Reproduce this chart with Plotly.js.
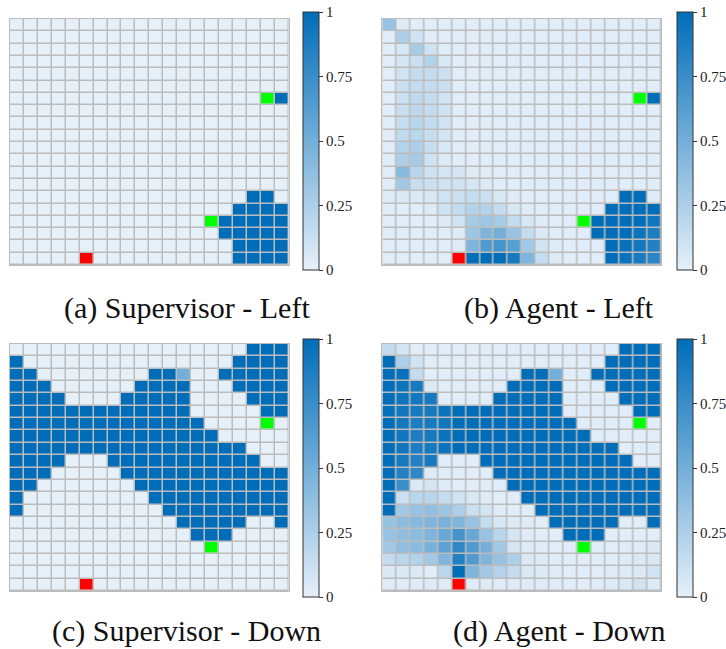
<!DOCTYPE html>
<html>
<head>
<meta charset="utf-8">
<script src="https://cdn.plot.ly/plotly-3.0.1.min.js"></script>
</head>
<body style="margin:0;background:#fff">
<div id="chart" style="width:726px;height:649px"></div>
<script>
// grid coordinates (columns 1..20, rows 1..20 from top)
const colIdx = [1,2,3,4,5,6,7,8,9,10,11,12,13,14,15,16,17,18,19,20];
const rowIdx = [1,2,3,4,5,6,7,8,9,10,11,12,13,14,15,16,17,18,19,20];

// (a) Supervisor - Left
const supLeft = [
 [0,0,0,0,0, 0,0,0,0,0, 0,0,0,0,0, 0,0,0,0,0],
 [0,0,0,0,0, 0,0,0,0,0, 0,0,0,0,0, 0,0,0,0,0],
 [0,0,0,0,0, 0,0,0,0,0, 0,0,0,0,0, 0,0,0,0,0],
 [0,0,0,0,0, 0,0,0,0,0, 0,0,0,0,0, 0,0,0,0,0],
 [0,0,0,0,0, 0,0,0,0,0, 0,0,0,0,0, 0,0,0,0,0],
 [0,0,0,0,0, 0,0,0,0,0, 0,0,0,0,0, 0,0,0,0,0],
 [0,0,0,0,0, 0,0,0,0,0, 0,0,0,0,0, 0,0,0,0,1],
 [0,0,0,0,0, 0,0,0,0,0, 0,0,0,0,0, 0,0,0,0,0],
 [0,0,0,0,0, 0,0,0,0,0, 0,0,0,0,0, 0,0,0,0,0],
 [0,0,0,0,0, 0,0,0,0,0, 0,0,0,0,0, 0,0,0,0,0],
 [0,0,0,0,0, 0,0,0,0,0, 0,0,0,0,0, 0,0,0,0,0],
 [0,0,0,0,0, 0,0,0,0,0, 0,0,0,0,0, 0,0,0,0,0],
 [0,0,0,0,0, 0,0,0,0,0, 0,0,0,0,0, 0,0,0,0,0],
 [0,0,0,0,0, 0,0,0,0,0, 0,0,0,0,0, 0,0,0,0,0],
 [0,0,0,0,0, 0,0,0,0,0, 0,0,0,0,0, 0,0,1,1,0],
 [0,0,0,0,0, 0,0,0,0,0, 0,0,0,0,0, 0,1,1,1,1],
 [0,0,0,0,0, 0,0,0,0,0, 0,0,0,0,0, 1,1,1,1,1],
 [0,0,0,0,0, 0,0,0,0,0, 0,0,0,0,0, 1,1,1,1,1],
 [0,0,0,0,0, 0,0,0,0,0, 0,0,0,0,0, 0,1,1,1,1],
 [0,0,0,0,0, 0,0,0,0,0, 0,0,0,0,0, 0,1,1,1,1]
];

// (b) Agent - Left
const agentLeft = [
 [.35,.04,.02,.02,.02, .02,.02,.02,.02,.02, .02,.02,.02,.02,.02, .02,.02,.02,.02,.02],
 [.02,.25,.10,.02,.02, .02,.02,.02,.02,.02, .02,.02,.02,.02,.02, .02,.02,.02,.02,.02],
 [.02,.07,.28,.10,.02, .02,.02,.02,.02,.02, .02,.02,.02,.02,.02, .02,.02,.02,.02,.02],
 [.02,.08,.12,.22,.06, .02,.02,.02,.02,.02, .02,.02,.02,.02,.02, .02,.02,.02,.02,.02],
 [.02,.10,.15,.15,.12, .02,.02,.02,.02,.02, .02,.02,.02,.02,.02, .02,.02,.02,.02,.02],
 [.02,.12,.15,.15,.12, .02,.02,.02,.02,.02, .02,.02,.02,.02,.02, .02,.02,.02,.02,.02],
 [.02,.12,.17,.15,.10, .02,.02,.02,.02,.02, .02,.02,.02,.02,.02, .02,.02,.02,0,1],
 [.02,.13,.18,.15,.10, .02,.02,.02,.02,.02, .02,.02,.02,.02,.02, .02,.02,.02,.02,.02],
 [.02,.14,.20,.15,.10, .02,.02,.02,.02,.02, .02,.02,.02,.02,.02, .02,.02,.02,.02,.02],
 [.02,.17,.20,.14,.08, .02,.02,.02,.02,.02, .02,.02,.02,.02,.02, .02,.02,.02,.02,.02],
 [.02,.22,.25,.14,.06, .02,.02,.02,.02,.02, .02,.02,.02,.02,.02, .02,.02,.02,.02,.02],
 [.02,.25,.28,.10,.04, .02,.02,.02,.02,.02, .02,.02,.02,.02,.02, .02,.02,.02,.02,.02],
 [.02,.42,.20,.10,.08, .08,.04,.02,.02,.02, .02,.02,.02,.02,.02, .02,.02,.02,.02,.02],
 [.02,.30,.14,.12,.10, .10,.08,.04,.02,.02, .02,.02,.02,.02,.02, .02,.02,.02,.02,.02],
 [.03,.05,.05,.06,.10, .12,.15,.12,.06,.03, .02,.02,.02,.02,.02, .02,.02,1,1,.03],
 [.02,.02,.02,.04,.10, .15,.22,.22,.15,.07, .03,.02,.02,.02,.02, .02,1,1,1,1],
 [.02,.02,.02,.02,.04, .10,.28,.32,.28,.15, .07,.03,.02,.02,0, 1,1,1,1,.93],
 [.02,.02,.02,.02,.02, .04,.32,.45,.50,.35, .15,.05,.02,.02,.02, 1,1,1,.95,.88],
 [.02,.02,.02,.02,.02, .03,.45,.65,.70,.62, .30,.10,.03,.02,.02, .02,1,.97,.92,.85],
 [.02,.02,.02,.02,.02, 0,1,1,1,.90, .45,.15,.04,.02,.02, .02,1,.95,.90,.82]
];

// (c) Supervisor - Down
const supDown = [
 [0,0,0,0,0, 0,0,0,0,0, 0,0,0,0,0, 0,0,1,1,1],
 [1,0,0,0,0, 0,0,0,0,0, 0,0,0,0,0, 0,1,1,1,1],
 [1,1,0,0,0, 0,0,0,0,0, 1,1,.5,0,0, 1,1,1,1,1],
 [1,1,1,0,0, 0,0,0,0,1, 1,1,1,0,0, 0,1,1,1,1],
 [1,1,1,1,0, 0,0,0,1,1, 1,1,1,0,0, 0,0,1,1,1],
 [1,1,1,1,1, 1,1,1,1,1, 1,1,1,0,0, 0,0,0,1,1],
 [1,1,1,1,1, 1,1,1,1,1, 1,1,1,1,0, 0,0,0,0,0],
 [1,1,1,1,1, 1,1,1,1,1, 1,1,1,1,1, 0,0,0,0,0],
 [1,1,1,1,1, 1,1,1,1,1, 1,1,1,1,1, 1,1,0,0,0],
 [1,1,1,1,0, 0,0,1,1,1, 1,1,1,1,1, 1,1,1,0,0],
 [1,1,1,0,0, 0,0,0,1,1, 1,1,1,1,1, 1,1,1,1,1],
 [1,1,0,0,0, 0,0,0,0,1, 1,1,1,1,1, 1,1,1,1,1],
 [1,0,0,0,0, 0,0,0,0,0, 1,1,1,1,1, 1,1,1,1,1],
 [1,0,0,0,0, 0,0,0,0,0, 0,1,1,1,1, 1,1,1,1,1],
 [0,0,0,0,0, 0,0,0,0,0, 0,0,1,1,1, 1,1,0,0,1],
 [0,0,0,0,0, 0,0,0,0,0, 0,0,0,1,1, 1,0,0,0,0],
 [0,0,0,0,0, 0,0,0,0,0, 0,0,0,0,0, 0,0,0,0,0],
 [0,0,0,0,0, 0,0,0,0,0, 0,0,0,0,0, 0,0,0,0,0],
 [0,0,0,0,0, 0,0,0,0,0, 0,0,0,0,0, 0,0,0,0,0],
 [0,0,0,0,0, 0,0,0,0,0, 0,0,0,0,0, 0,0,0,0,0]
];

// (d) Agent - Down
const agentDown = [
 [.15,.08,.02,.02,.02, .02,.02,.02,.02,.02, .02,.02,.02,.02,.02, .02,.02,1,1,1],
 [1,.25,.10,.02,.02, .02,.02,.02,.02,.02, .02,.02,.02,.02,.02, .02,1,1,1,1],
 [1,.97,.15,.02,.02, .02,.02,.02,.02,.02, 1,1,.5,.02,.02, 1,1,1,1,1],
 [1,.95,.90,.05,.02, .02,.02,.02,.02,1, 1,1,1,.02,.02, .02,1,1,1,1],
 [1,.95,.92,.90,.02, .02,.02,.02,1,1, 1,1,1,.02,.02, .02,.02,1,1,1],
 [.98,.93,.90,.90,.95, 1,1,1,1,1, 1,1,1,.02,.02, .02,.02,.02,1,1],
 [1,.92,.88,.90,.93, 1,1,1,1,1, 1,1,1,1,.02, .02,.02,.02,0,.02],
 [1,.92,.87,.90,.95, 1,1,1,1,1, 1,1,1,1,1, .02,.02,.02,.02,.02],
 [1,.93,.87,.90,.95, 1,1,1,1,1, 1,1,1,1,1, 1,1,.02,.02,.02],
 [1,.90,.85,.90,.02, .02,.02,1,1,1, 1,1,1,1,1, 1,1,1,.02,.02],
 [1,.85,.80,.04,.02, .02,.02,.02,1,1, 1,1,1,1,1, 1,1,1,1,1],
 [1,.75,.05,.08,.03, .02,.02,.02,.02,1, 1,1,1,1,1, 1,1,1,1,1],
 [1,.12,.20,.20,.15, .10,.06,.03,.02,.02, 1,1,1,1,1, 1,1,1,1,1],
 [1,.30,.35,.38,.33, .25,.12,.08,.03,.02, .02,1,1,1,1, 1,1,1,1,1],
 [.35,.40,.42,.45,.48, .45,.35,.15,.07,.04, .03,.02,1,1,1, 1,1,.02,.02,1],
 [.35,.38,.40,.45,.55, .70,.55,.35,.20,.08, .03,.02,.02,1,1, 1,.02,.02,.02,.02],
 [.30,.38,.40,.48,.60, .80,.65,.50,.30,.08, .04,.03,.02,.02,0, .02,.02,.03,.03,.05],
 [.15,.20,.22,.30,.45, .85,.65,.45,.35,.25, .05,.04,.03,.02,.02, .02,.02,.04,.05,.06],
 [.05,.05,.05,.02,.20, 1,.45,.30,.22,.15, .06,.04,.03,.02,.02, .02,.03,.04,.05,.10],
 [.03,.03,.03,.03,.03, 0,.03,.03,.03,.03, .03,.03,.03,.02,.02, .03,.04,.06,.10,.04]
];

// special cells (start = red, goals = green), same for every panel
const markRows  = [20, 7, 17];
const markCols  = [6, 19, 15];
const markKinds = [0, 1, 1];   // 0 = red, 1 = green

const panelLabels = ['(a) Supervisor - Left', '(b) Agent - Left', '(c) Supervisor - Down', '(d) Agent - Down'];
const cbTickVals = [0, 0.25, 0.5, 0.75, 1];
const cbTickText = ['0', '0.25', '0.5', '0.75', '1'];

const SERIF = 'Liberation Serif';
const W = 726, H = 649;
const panels = [
  {z: supLeft,   x0: 10,  x1: 289, y0: 19,  y1: 265, cbx: 303, cby: 12,  lx: 187, ly: 308, bottom: false},
  {z: agentLeft, x0: 383, x1: 662, y0: 19,  y1: 265, cbx: 677, cby: 12,  lx: 560, ly: 308, bottom: false},
  {z: supDown,   x0: 10,  x1: 289, y0: 344, y1: 591, cbx: 303, cby: 339, lx: 187, ly: 649, bottom: true},
  {z: agentDown, x0: 383, x1: 662, y0: 344, y1: 591, cbx: 677, cby: 339, lx: 560, ly: 649, bottom: true}
];

const markZ = rowIdx.map(r => colIdx.map(c => null));
markRows.forEach((r, i) => { markZ[r - 1][markCols[i] - 1] = markKinds[i]; });

const blues = [[0, '#e6f0f9'], [1, '#006db9']];
const traces = [];
const layout = {
  width: W, height: H,
  margin: {l: 0, r: 0, t: 0, b: 0},
  paper_bgcolor: '#ffffff',
  plot_bgcolor: '#bcbcbc',
  showlegend: false,
  annotations: []
};
panels.forEach((p, i) => {
  const sfx = i === 0 ? '' : String(i + 1);
  traces.push({
    type: 'heatmap', z: p.z, x: colIdx, y: rowIdx,
    xaxis: 'x' + sfx, yaxis: 'y' + sfx,
    colorscale: blues, zmin: 0, zmax: 1,
    xgap: 1.5, ygap: 1.5, hoverinfo: 'z',
    colorbar: {
      x: p.cbx / W, xanchor: 'left', xpad: 0,
      y: 1 - p.cby / H, yanchor: 'top', ypad: 0,
      len: 258, lenmode: 'pixels', thickness: 16, thicknessmode: 'pixels',
      outlinewidth: 1, outlinecolor: '#333',
      ticks: 'outside', ticklen: 4, tickwidth: 1, tickcolor: '#333',
      tickvals: cbTickVals, ticktext: cbTickText,
      tickfont: {family: SERIF, size: 15, color: '#222'}
    }
  });
  traces.push({
    type: 'heatmap', z: markZ, x: colIdx, y: rowIdx,
    xaxis: 'x' + sfx, yaxis: 'y' + sfx,
    colorscale: [[0, '#ff0000'], [0.5, '#ff0000'], [0.5, '#00ff00'], [1, '#00ff00']],
    zmin: 0, zmax: 1, showscale: false, xgap: 1.5, ygap: 1.5, hoverinfo: 'skip'
  });
  const ax = {showgrid: false, zeroline: false, showticklabels: false, ticks: '',
              showline: true, mirror: true, linecolor: '#bcbcbc', linewidth: 1};
  layout['xaxis' + sfx] = Object.assign({}, ax, {domain: [p.x0 / W, p.x1 / W], range: [0.5, 20.5], anchor: 'y' + sfx});
  layout['yaxis' + sfx] = Object.assign({}, ax, {domain: [1 - p.y1 / H, 1 - p.y0 / H], range: [20.5, 0.5], anchor: 'x' + sfx});
  layout.annotations.push({
    text: panelLabels[i], xref: 'paper', yref: 'paper',
    x: p.lx / W, y: 1 - p.ly / H, xanchor: 'center', yanchor: p.bottom ? 'bottom' : 'middle',
    borderpad: 0, showarrow: false, font: {family: SERIF, size: 30, color: '#111'}
  });
});

Plotly.newPlot('chart', traces, layout, {displayModeBar: false});
</script>
</body>
</html>
